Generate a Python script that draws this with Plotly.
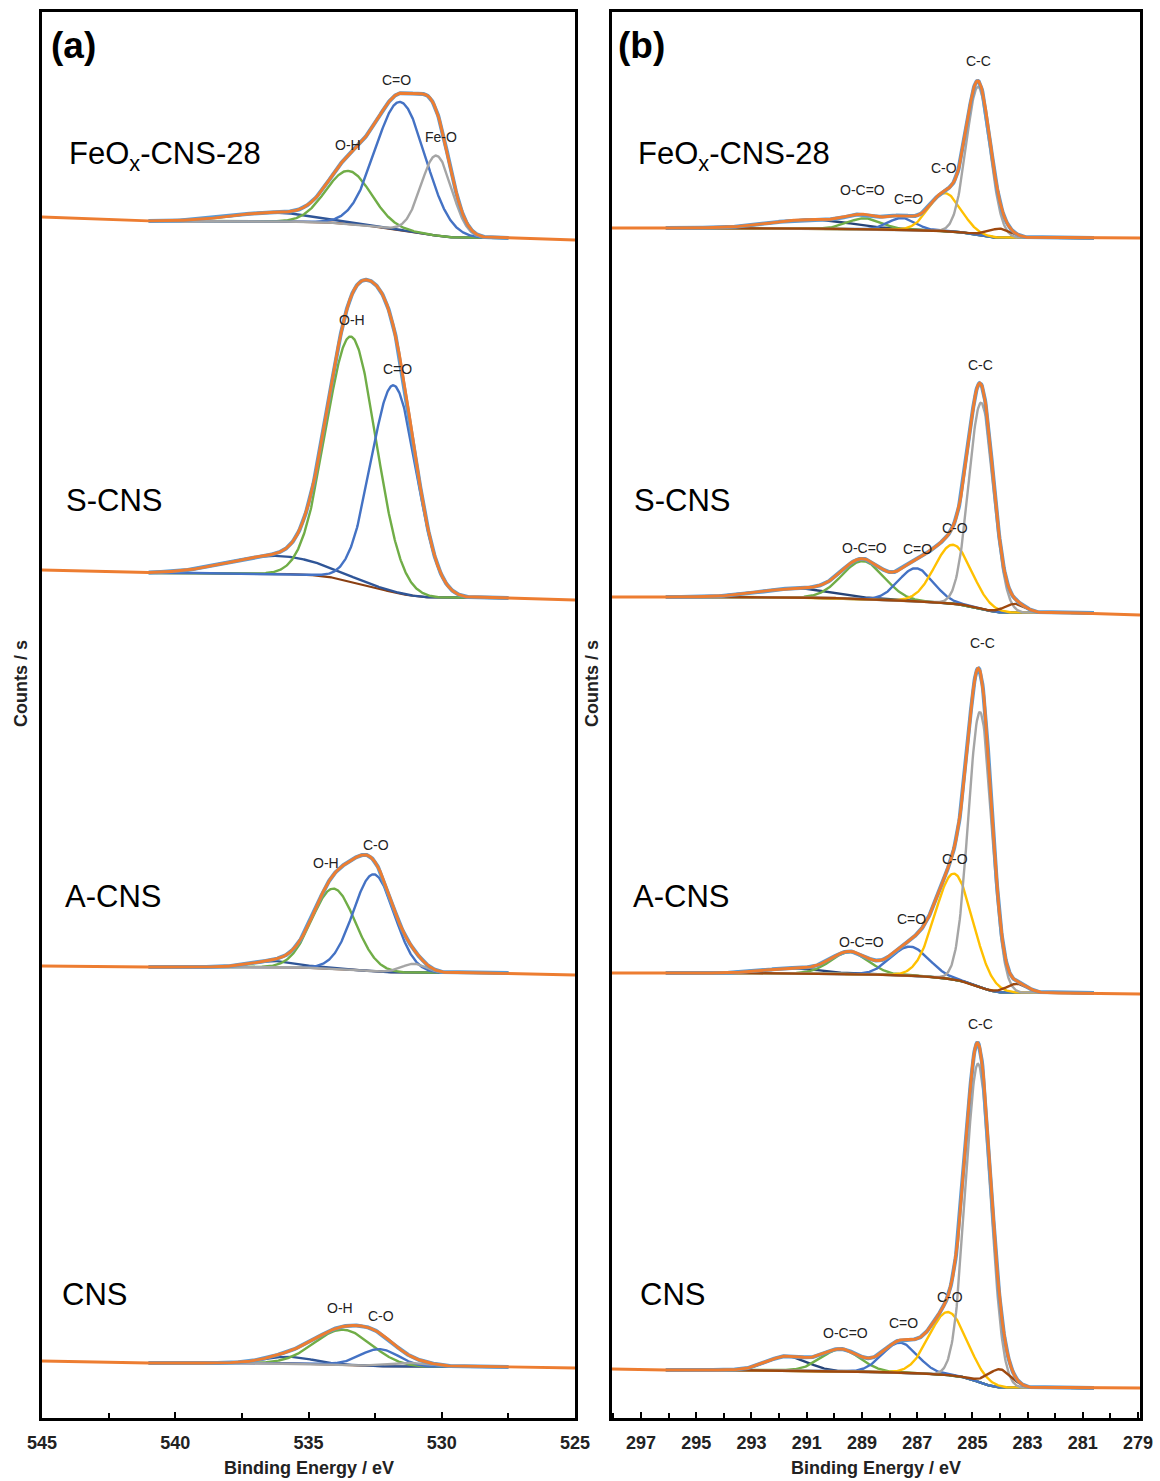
import numpy as np
import plotly.graph_objects as go

# ======================= DATA =======================
# Intensities are in arbitrary counts/s; the four spectra of each panel are stacked.
SAMPLES = ["FeO<sub>x</sub>-CNS-28", "S-CNS", "A-CNS", "CNS"]

# ---- Panel (a): O 1s ----
O1S_RANGE = [545, 525]
O1S_FIT = [541.0, 527.5]                     # fitted window (high BE, low BE)

O1S_FEOX_KIND = ["broad", "O-H", "C=O", "Fe-O"]
O1S_FEOX_CENTER = [536.3, 533.5, 531.55, 530.2]
O1S_FEOX_HEIGHT = [9, 53, 128, 80]
O1S_FEOX_FWHM = [3.6, 2.0, 2.2, 1.35]

O1S_SCNS_KIND = ["broad", "O-H", "C=O"]
O1S_SCNS_CENTER = [536.2, 533.4, 531.8]
O1S_SCNS_HEIGHT = [18, 245, 207]
O1S_SCNS_FWHM = [4.2, 2.2, 2.0]

O1S_ACNS_KIND = ["broad", "O-H", "C-O", "minor"]
O1S_ACNS_CENTER = [536.3, 534.06, 532.55, 531.05]
O1S_ACNS_HEIGHT = [6, 80, 97, 9]
O1S_ACNS_FWHM = [2.0, 1.9, 1.8, 1.1]

O1S_CNS_KIND = ["broad", "O-H", "C-O", "minor"]
O1S_CNS_CENTER = [535.75, 533.7, 532.33, 531.0]
O1S_CNS_HEIGHT = [6.5, 35, 17, 4]
O1S_CNS_FWHM = [2.1, 2.5, 1.7, 1.8]

O1S_BG_HIGH = [1197, 845, 451, 55]     # background level at high-BE end of fit
O1S_BG_LOW = [1180, 820, 445, 51]      # background level at low-BE end of fit
O1S_RAW_HIGH = [1201, 848, 452, 57]    # measured counts at 545 eV
O1S_RAW_LOW = [1178, 818, 443, 50]     # measured counts at 525 eV

O1S_LABELS = [["O-H", "C=O", "Fe-O"], ["O-H", "C=O"], ["O-H", "C-O"], ["O-H", "C-O"]]

# ---- Panel (b): C 1s ----
C1S_RANGE = [298.05, 278.93]
C1S_FIT = [296.1, 280.6]
C1S_KIND = ["broad", "O-C=O", "C=O", "C-O", "C-C", "low"]

C1S_FEOX_CENTER = [290.8, 288.89, 287.55, 285.99, 284.79, 284.0]
C1S_FEOX_HEIGHT = [9, 11, 12, 38, 148, 9]
C1S_FEOX_FWHM = [3.4, 1.45, 1.15, 1.35, 1.0, 1.0]

C1S_SCNS_CENTER = [291.3, 288.96, 287.04, 285.7, 284.68, 283.45]
C1S_SCNS_HEIGHT = [9, 38, 33, 59, 206, 9]
C1S_SCNS_FWHM = [3.2, 1.8, 1.48, 1.57, 1.05, 0.9]

C1S_ACNS_CENTER = [291.5, 289.43, 287.26, 285.66, 284.72, 283.38]
C1S_ACNS_HEIGHT = [5, 22, 29, 106, 275, 9]
C1S_ACNS_FWHM = [2.3, 1.6, 1.6, 1.6, 1.0, 0.9]

C1S_CNS_CENTER = [291.71, 289.76, 287.62, 285.88, 284.79, 284.0]
C1S_CNS_HEIGHT = [14, 22, 30, 63, 318, 18]
C1S_CNS_FWHM = [1.7, 1.65, 1.48, 1.6, 1.05, 1.0]

C1S_BG_HIGH = [1190, 821, 445, 48]
C1S_BG_LOW = [1180, 805, 425, 30]
C1S_RAW_HIGH = [1190, 821, 445, 49]
C1S_RAW_LOW = [1180, 803, 424, 30]

C1S_LABELS = [["O-C=O", "C=O", "C-O", "C-C"]] * 4

# ======================= STYLE / LAYOUT =======================
W, H = 1160, 1481
FONT = "Liberation Sans, Arial, sans-serif"
O1S_COLORS = {"broad": "#2f5597", "O-H": "#70ad47", "C=O": "#4472c4", "C-O": "#4472c4",
              "Fe-O": "#a5a5a5", "minor": "#a5a5a5"}
C1S_COLORS = {"broad": "#264478", "O-C=O": "#70ad47", "C=O": "#4472c4", "C-O": "#ffc000",
              "C-C": "#a5a5a5", "low": "#9e480e"}
ENV_COLOR = "#ed7d31"
RAW_COLOR = "#5b9bd5"
O1S_BG_COLOR = "#8a3f12"
C1S_BG_COLOR = "#666666"

# label positions (BE, counts) -- layout only
O1S_LABEL_POS = [[(533.53, 1273), (531.7, 1338), (530.04, 1281)],
                 [(533.35, 1098), (531.65, 1049)],
                 [(534.35, 555), (532.45, 573)],
                 [(533.8, 110), (532.28, 102)]]
C1S_LABEL_POS = [[(288.99, 1228), (287.33, 1219), (286.03, 1250), (284.79, 1357)],
                 [(288.92, 870), (287.0, 869), (285.63, 890), (284.72, 1053)],
                 [(289.03, 476), (287.22, 499), (285.63, 559), (284.65, 775)],
                 [(289.61, 85), (287.51, 95), (285.81, 121), (284.69, 394)]]
# sample-name label positions in page pixels (left edge, vertical centre)
NAME_POS_A = [(67, 156), (64, 500), (63, 897), (60, 1294)]
NAME_POS_B = [(636, 156), (632, 500), (631, 897), (638, 1294)]

PLOT_A = (42, 575)
PLOT_B = (612, 1140)
PLOT_Y = (12, 1418)


def gauss(e, c, h, w):
    return h * np.exp(-4.0 * np.log(2.0) * ((e - c) / w) ** 2)


def add_spectrum(fig, axis_suffix, fit, rng, centers, heights, fwhms, colors,
                 bg_high, bg_low, raw_high, raw_low, bg_color):
    xa, ya = "x" + axis_suffix, "y" + axis_suffix
    e = np.linspace(fit[1], fit[0], 700)           # ascending (low BE -> high BE)
    peaks = [gauss(e, c, h, w) for c, h, w in zip(centers, heights, fwhms)]
    total = np.sum(peaks, axis=0)
    # Shirley-type background from the integrated peak area
    cum = np.concatenate([[0.0], np.cumsum((total[1:] + total[:-1]) / 2 * np.diff(e))])
    bg = bg_low + (bg_high - bg_low) * cum / cum[-1]
    env = bg + total

    def line(x, y, color, width):
        fig.add_trace(go.Scatter(x=x, y=y, mode="lines", xaxis=xa, yaxis=ya,
                                 line=dict(color=color, width=width),
                                 hoverinfo="skip", showlegend=False))

    line(e, bg, bg_color, 2.2)
    for p, col in zip(peaks, colors):
        line(e, bg + p, col, 2.4)
    line(e, env, RAW_COLOR, 4)
    xo = np.concatenate([[rng[1]], e, [rng[0]]])
    yo = np.concatenate([[raw_low], env, [raw_high]])
    line(xo, yo, ENV_COLOR, 2.9)


fig = go.Figure()

o1s_sets = [
    (O1S_FEOX_KIND, O1S_FEOX_CENTER, O1S_FEOX_HEIGHT, O1S_FEOX_FWHM),
    (O1S_SCNS_KIND, O1S_SCNS_CENTER, O1S_SCNS_HEIGHT, O1S_SCNS_FWHM),
    (O1S_ACNS_KIND, O1S_ACNS_CENTER, O1S_ACNS_HEIGHT, O1S_ACNS_FWHM),
    (O1S_CNS_KIND, O1S_CNS_CENTER, O1S_CNS_HEIGHT, O1S_CNS_FWHM),
]
for i, (kind, c, h, w) in enumerate(o1s_sets):
    add_spectrum(fig, "", O1S_FIT, O1S_RANGE, c, h, w, [O1S_COLORS[k] for k in kind],
                 O1S_BG_HIGH[i], O1S_BG_LOW[i], O1S_RAW_HIGH[i], O1S_RAW_LOW[i], O1S_BG_COLOR)

c1s_sets = [
    (C1S_FEOX_CENTER, C1S_FEOX_HEIGHT, C1S_FEOX_FWHM),
    (C1S_SCNS_CENTER, C1S_SCNS_HEIGHT, C1S_SCNS_FWHM),
    (C1S_ACNS_CENTER, C1S_ACNS_HEIGHT, C1S_ACNS_FWHM),
    (C1S_CNS_CENTER, C1S_CNS_HEIGHT, C1S_CNS_FWHM),
]
for i, (c, h, w) in enumerate(c1s_sets):
    add_spectrum(fig, "2", C1S_FIT, C1S_RANGE, c, h, w, [C1S_COLORS[k] for k in C1S_KIND],
                 C1S_BG_HIGH[i], C1S_BG_LOW[i], C1S_RAW_HIGH[i], C1S_RAW_LOW[i], C1S_BG_COLOR)


def px(x):
    return x / W


def py(y):
    return 1 - y / H


annotations = []
for i, labs in enumerate(O1S_LABELS):
    for t, (x, y) in zip(labs, O1S_LABEL_POS[i]):
        annotations.append(dict(x=x, y=y, xref="x", yref="y", text=t, showarrow=False,
                                font=dict(family=FONT, size=14, color="#222222")))
for i, labs in enumerate(C1S_LABELS):
    for t, (x, y) in zip(labs, C1S_LABEL_POS[i]):
        annotations.append(dict(x=x, y=y, xref="x2", yref="y2", text=t, showarrow=False,
                                font=dict(family=FONT, size=14, color="#222222")))
for name, (x, y) in zip(SAMPLES, NAME_POS_A):
    annotations.append(dict(x=px(x), y=py(y), xref="paper", yref="paper", text=name,
                            showarrow=False, xanchor="left", yanchor="middle",
                            font=dict(family=FONT, size=31, color="black")))
for name, (x, y) in zip(SAMPLES, NAME_POS_B):
    annotations.append(dict(x=px(x), y=py(y), xref="paper", yref="paper", text=name,
                            showarrow=False, xanchor="left", yanchor="middle",
                            font=dict(family=FONT, size=31, color="black")))
for t, x in [("(a)", 49), ("(b)", 616)]:
    annotations.append(dict(x=px(x), y=py(46), xref="paper", yref="paper", text=t,
                            showarrow=False, xanchor="left", yanchor="middle",
                            font=dict(family=FONT, size=37, color="black", weight="bold")))
for x in [(PLOT_A[0] + PLOT_A[1]) / 2, (PLOT_B[0] + PLOT_B[1]) / 2]:
    annotations.append(dict(x=px(x), y=py(1468), xref="paper", yref="paper",
                            text="Binding Energy / eV", showarrow=False,
                            xanchor="center", yanchor="middle",
                            font=dict(family=FONT, size=18, color="#222222", weight="bold")))
for x, y in [(21, 684), (592, 684)]:
    annotations.append(dict(x=px(x), y=py(y), xref="paper", yref="paper",
                            text="Counts / s", showarrow=False, textangle=-90,
                            xanchor="center", yanchor="middle",
                            font=dict(family=FONT, size=18, color="#222222", weight="bold")))

tickfont = dict(family=FONT, size=18, color="#222222", weight="bold")
common_x = dict(showline=True, linewidth=3, linecolor="black", mirror=True,
                ticks="inside", ticklen=6, tickwidth=2, tickcolor="black",
                showgrid=False, zeroline=False, tickfont=tickfont,
                ticklabelstandoff=6, automargin=False)
common_y = dict(showline=True, linewidth=3, linecolor="black", mirror=True,
                showticklabels=False, ticks="", showgrid=False, zeroline=False,
                automargin=False,
                range=[0, PLOT_Y[1] - PLOT_Y[0]], domain=[py(PLOT_Y[1]), py(PLOT_Y[0])])

fig.update_layout(
    width=W, height=H,
    margin=dict(l=0, r=0, t=0, b=0, autoexpand=False),
    paper_bgcolor="white", plot_bgcolor="white",
    showlegend=False,
    xaxis=dict(common_x, domain=[px(PLOT_A[0]), px(PLOT_A[1])], range=O1S_RANGE,
               tickmode="linear", tick0=525, dtick=5,
               minor=dict(tick0=525, dtick=2.5, ticks="inside", ticklen=5,
                          tickwidth=2, tickcolor="black")),
    yaxis=dict(common_y, anchor="x"),
    xaxis2=dict(common_x, domain=[px(PLOT_B[0]), px(PLOT_B[1])], range=C1S_RANGE,
                tickmode="linear", tick0=279, dtick=2, anchor="y2",
                minor=dict(tick0=279, dtick=1, ticks="inside", ticklen=5,
                           tickwidth=2, tickcolor="black")),
    yaxis2=dict(common_y, anchor="x2"),
    annotations=annotations,
)

fig.write_html("out.html")
